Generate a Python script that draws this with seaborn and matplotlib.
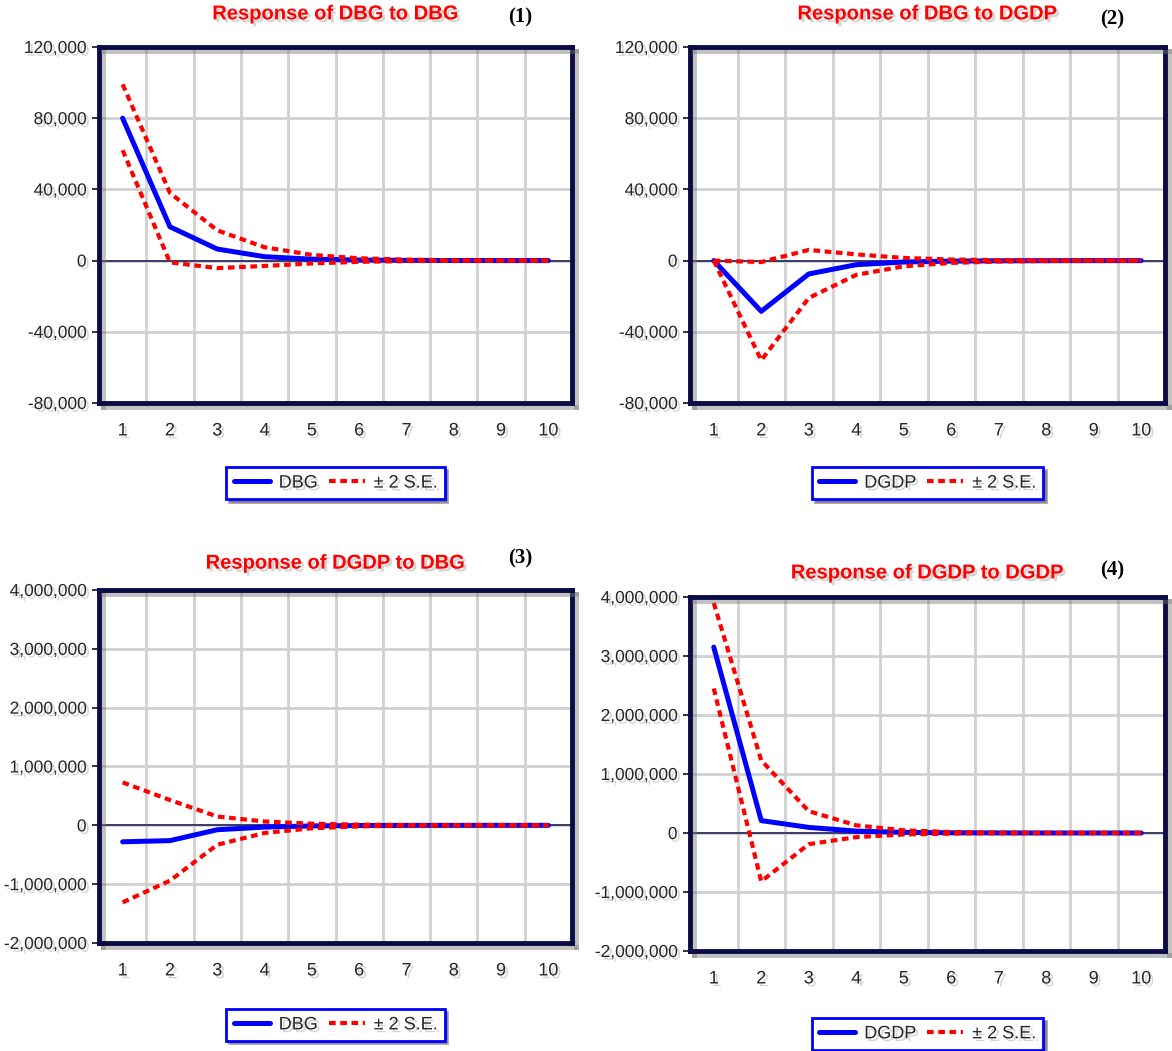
import numpy as np
import pandas as pd
import matplotlib
matplotlib.use("Agg")
import matplotlib.pyplot as plt
import matplotlib.patheffects as pe
from matplotlib.ticker import FixedLocator, StrMethodFormatter
import seaborn as sns

# periods
periods = list(range(1, 11))

# (1) Response of DBG to DBG
p1_resp = [80000, 19000, 6500, 2200, 800, 300, 120, 50, 20, 10]
p1_up = [99000, 38000, 17000, 7500, 3200, 1300, 500, 200, 80, 30]
p1_lo = [62000, -1000, -4200, -3000, -1600, -700, -260, -100, -40, -15]

# (2) Response of DBG to DGDP
p2_resp = [0, -28500, -7500, -2300, -800, -300, -120, -50, -20, -10]
p2_up = [0, -800, 6000, 3500, 1500, 600, 250, 100, 40, 15]
p2_lo = [0, -56000, -21000, -8000, -3200, -1300, -500, -200, -80, -30]

# (3) Response of DGDP to DBG
p3_resp = [-280000, -260000, -75000, -30000, -10000, -3500, -1200, -400, -150, -50]
p3_up = [730000, 430000, 150000, 65000, 28000, 11000, 4000, 1500, 500, 200]
p3_lo = [-1310000, -940000, -330000, -130000, -50000, -18000, -6000, -2000, -800, -300]

# (4) Response of DGDP to DGDP
p4_resp = [3150000, 210000, 95000, 32000, 11000, 3800, 1300, 450, 150, 50]
p4_up = [3900000, 1230000, 370000, 130000, 45000, 16000, 5500, 1900, 650, 220]
p4_lo = [2450000, -820000, -190000, -70000, -25000, -9000, -3000, -1000, -350, -120]

titles = ["Response of DBG to DBG", "Response of DBG to DGDP",
          "Response of DGDP to DBG", "Response of DGDP to DGDP"]
numbers = ["(1)", "(2)", "(3)", "(4)"]
shock_names = ["DBG", "DGDP", "DBG", "DGDP"]
band_label = "\u00b1 2 S.E."
yticks_small = [-80000, -40000, 0, 40000, 80000, 120000]
yticks_big = [-2000000, -1000000, 0, 1000000, 2000000, 3000000, 4000000]

sns.set_style("white")
plt.rcParams["font.family"] = ["Liberation Sans", "DejaVu Sans"]
plt.rcParams["axes.unicode_minus"] = False

W, H = 1172, 1051
NAVY = "#0b0b45"
DASH = (0, (1.6, 1.1))


def rect(l, r, t, b):
    return [l / W, 1 - b / H, (r - l) / W, (b - t) / H]


shadow_txt = [pe.SimplePatchShadow(offset=(2, -2), shadow_rgbFace="#888888", alpha=0.35), pe.Normal()]

panels = [
    dict(pos=rect(99, 572, 47, 403), resp=p1_resp, up=p1_up, lo=p1_lo, yt=yticks_small,
         ty=1.093, ny=1.084, nx=0.89, ly=-0.225),
    dict(pos=rect(690, 1165, 47, 403), resp=p2_resp, up=p2_up, lo=p2_lo, yt=yticks_small,
         ty=1.093, ny=1.076, nx=0.888, ly=-0.225),
    dict(pos=rect(99, 572, 590, 943), resp=p3_resp, up=p3_up, lo=p3_lo, yt=yticks_big,
         ty=1.076, ny=1.09, nx=0.89, ly=-0.232),
    dict(pos=rect(690, 1165, 597, 951), resp=p4_resp, up=p4_up, lo=p4_lo, yt=yticks_big,
         ty=1.068, ny=1.076, nx=0.888, ly=-0.234),
]

fig = plt.figure(figsize=(W / 100, H / 100), dpi=100)

for i, p in enumerate(panels):
    ax = fig.add_axes(p["pos"])
    df = pd.DataFrame({"period": periods, "resp": p["resp"], "up": p["up"], "lo": p["lo"]})

    ax.axhline(0, color="#2e2e60", lw=1.3, zorder=1.5)
    sns.lineplot(data=df, x="period", y="resp", ax=ax, color="#0000ff", lw=3.6,
                 label=shock_names[i], zorder=3)
    sns.lineplot(data=df, x="period", y="up", ax=ax, color="#ff0000", lw=3.0,
                 linestyle=DASH, label=band_label, zorder=4)
    sns.lineplot(data=df, x="period", y="lo", ax=ax, color="#ff0000", lw=3.0,
                 linestyle=DASH, label="_nolegend_", zorder=4)

    ax.set_xlim(0.5, 10.5)
    ax.set_ylim(p["yt"][0], p["yt"][-1])
    ax.set_xlabel("")
    ax.set_ylabel("")

    ax.xaxis.set_major_locator(FixedLocator(periods))
    ax.xaxis.set_minor_locator(FixedLocator([x + 0.5 for x in range(0, 11)]))
    ax.yaxis.set_major_locator(FixedLocator(p["yt"]))
    ax.yaxis.set_major_formatter(StrMethodFormatter("{x:,.0f}"))

    ax.tick_params(axis="x", which="major", length=0, pad=14, labelsize=13)
    ax.tick_params(axis="x", which="minor", length=6, width=1.2, color=NAVY, direction="out")
    ax.tick_params(axis="y", which="major", length=5, width=1.2, color=NAVY, pad=4,
                   labelsize=12.5, left=True)
    for lab in ax.get_xticklabels() + ax.get_yticklabels():
        lab.set_path_effects(shadow_txt)

    ax.set_axisbelow(True)
    ax.xaxis.grid(True, which="minor", color="#d0d0d0", lw=2)
    ax.yaxis.grid(True, which="major", color="#d0d0d0", lw=2)
    ax.xaxis.grid(False, which="major")

    for sp in ax.spines.values():
        sp.set_visible(True)
        sp.set_color(NAVY)
        sp.set_linewidth(3.5)
        sp.set_zorder(5)
        sp.set_path_effects([pe.SimpleLineShadow(offset=(3, -3), shadow_color="#777777", alpha=0.45),
                             pe.Normal()])

    ax.text(0.5, p["ty"], titles[i], transform=ax.transAxes, ha="center", va="center",
            color="#ff0000", fontsize=14.5, fontweight="bold", path_effects=shadow_txt)
    ax.text(p["nx"], p["ny"], numbers[i], transform=ax.transAxes, ha="center", va="center",
            color="black", fontsize=15, fontweight="bold", family=["Liberation Serif", "DejaVu Serif"])

    leg = ax.legend(loc="center", bbox_to_anchor=(0.5, p["ly"]), ncol=2, frameon=True,
                    fancybox=False, shadow=True, fontsize=13, handlelength=2.0,
                    columnspacing=0.6, handletextpad=0.5, borderpad=0.4)
    leg.get_frame().set_edgecolor("#0000ff")
    leg.get_frame().set_linewidth(2)
    for t in leg.get_texts():
        t.set_path_effects(shadow_txt)

fig.savefig("out.png", dpi=100)
